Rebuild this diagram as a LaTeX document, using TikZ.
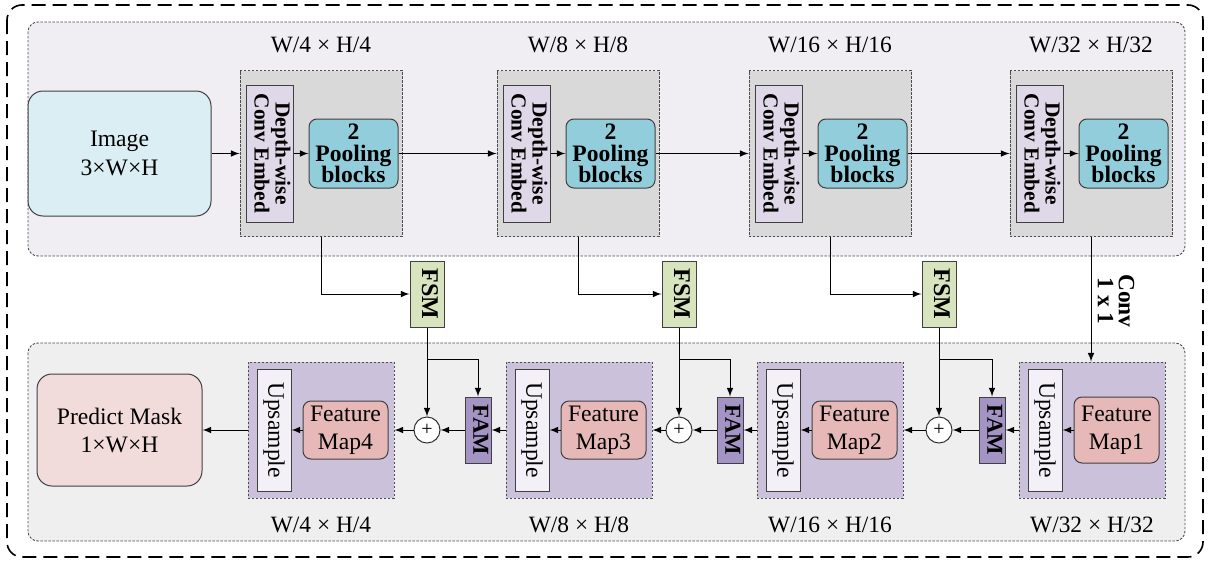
\documentclass[tikz,border=0pt]{standalone}
\usepackage{fontspec}
\setmainfont{Liberation Serif}
\usepackage{graphicx}
\usetikzlibrary{arrows,positioning}

\definecolor{toppanel}{HTML}{F0EEF3}
\definecolor{botpanel}{HTML}{EFEFEF}
\definecolor{imgblue}{HTML}{DAEEF3}
\definecolor{stagegray}{HTML}{D9D9D9}
\definecolor{dwlilac}{HTML}{DFD8E8}
\definecolor{poolcyan}{HTML}{92CDDC}
\definecolor{fsmgreen}{HTML}{D7E4BD}
\definecolor{decpurple}{HTML}{CCC1DA}
\definecolor{uppale}{HTML}{F3F1F7}
\definecolor{fmrose}{HTML}{E6B9B8}
\definecolor{fampurple}{HTML}{A394C4}
\definecolor{maskpink}{HTML}{F2DCDB}

\newcommand{\vtext}[1]{\rotatebox{-90}{\begin{tabular}{@{}c@{}}#1\end{tabular}}}

\begin{document}
\begin{tikzpicture}[x=0.5pt,y=-0.5pt,>=latex,line width=0.5pt,
  blk/.style={draw=black!75,inner sep=0pt,align=center},
  dotframe/.style={draw=black!70,line width=0.45pt,dash pattern=on 1.2pt off 0.8pt},
  imgbox/.style={blk,fill=imgblue,rounded corners=7.5pt,minimum width=91.5pt,minimum height=62.5pt,font=\fontsize{11.8}{14.5}\selectfont},
  stagebox/.style={dotframe,fill=stagegray,inner sep=0pt,minimum width=81pt,minimum height=83pt},
  dwbox/.style={blk,fill=dwlilac,minimum width=23.5pt,minimum height=68.5pt,font=\bfseries\fontsize{10.7}{10}\selectfont},
  poolbox/.style={blk,fill=poolcyan,rounded corners=4pt,minimum width=44.5pt,minimum height=34.5pt,font=\bfseries\fontsize{11.8}{10.8}\selectfont},
  fsmbox/.style={blk,fill=fsmgreen,minimum width=17pt,minimum height=33pt,font=\bfseries\fontsize{12}{12}\selectfont},
  sumnode/.style={circle,draw=black!80,fill=white,minimum size=13pt,inner sep=0pt,font=\fontsize{10}{10}\selectfont},
  fambox/.style={blk,fill=fampurple,minimum width=13pt,minimum height=33pt,font=\bfseries\fontsize{11.4}{11.4}\selectfont},
  decbox/.style={dotframe,fill=decpurple,inner sep=0pt,minimum width=73pt,minimum height=68pt},
  upbox/.style={blk,fill=uppale,minimum width=17pt,minimum height=61pt,font=\fontsize{11.8}{14}\selectfont},
  fmbox/.style={blk,fill=fmrose,rounded corners=4pt,minimum width=42.5pt,minimum height=29pt,font=\fontsize{11.8}{14}\selectfont},
  maskbox/.style={blk,fill=maskpink,rounded corners=7.5pt,minimum width=82.5pt,minimum height=56pt,font=\fontsize{11.8}{14}\selectfont},
  sizelabel/.style={font=\fontsize{11.7}{14}\selectfont},
  convtext/.style={rotate=-90,align=center,font=\bfseries\fontsize{11.7}{10.5}\selectfont}]
 \useasboundingbox (0,0) rectangle (1209,562);
 % frames
 \draw[line width=0.8pt,dash pattern=on 7pt off 3.5pt,rounded corners=7.5pt] (7,5) rectangle (1203,557);
 \draw[dotframe,fill=toppanel,rounded corners=5pt] (28,22) rectangle (1185,256);
 \draw[dotframe,fill=botpanel,rounded corners=5pt] (28,343) rectangle (1185,541);
 % encoder
 \node[imgbox] (img) at (119.5,153.5) {Image\\3×W×H};
 \foreach \i/\x/\d in {1/240/4,2/497/8,3/749/16,4/1010/32}{
  \node[stagebox] (g\i) at (\x+81,153.5) {};
  \node[dwbox] (dw\i) at (\x+29.5,153.5) {\vtext{Depth-wise\\Conv Embed}};
  \node[poolbox] (pool\i) at (\x+113.5,153.5) {2\\Pooling\\blocks};
  \node[sizelabel] (top\i) at (\x+81,45) {W/\d{} × H/\d};
 }
 % fusion
 \foreach \i/\x/\f in {1/427/478,2/679/730,3/939/992}{
  \node[fsmbox] (fsm\i) at (\x,294) {\vtext{FSM}};
  \node[sumnode] (sum\i) at (\x,430) {+};
  \node[fambox] (fam\i) at (\f,430) {\vtext{FAM}};
 }
 % decoder
 \node[maskbox] (mask) at (119.5,430) {Predict Mask\\1×W×H};
 \foreach \i/\x/\d/\h in {1/1019/32/33,2/757/16/29,3/506/8/29,4/248/4/29}{
  \node[decbox] (d\i) at (\x+73,430) {};
  \node[upbox] (up\i) at (\x+26,430) {\vtext{Upsample}};
  \node[fmbox,minimum height=\h pt] (fm\i) at (\x+97.5,430) {Feature\\Map\i};
  \node[sizelabel] (bot\i) at (\x+73,525) {W/\d{} × H/\d};
  \draw[->] (fm\i) -- (up\i);
 }
 \node[convtext] (conv) at (1116,301) {Conv\\1 x 1};
 % connectors
 \draw[->] (img) -- (g1);
 \foreach \i in {1,...,4} \draw[->] (dw\i) -- (pool\i);
 \draw[->] (pool1) -- (g2);
 \draw[->] (pool2) -- (g3);
 \draw[->] (pool3) -- (g4);
 \foreach \i in {1,2,3}{
  \draw[->] (g\i.south) |- (fsm\i.west);
  \draw[->] (fsm\i) -- (sum\i);
  \draw[->] (fsm\i.south) ++(0,32) -| (fam\i.north);
  \draw[->] (fam\i) -- (sum\i);
 }
 \draw[->] (g4.south) -- (g4.south |- d1.north);
 \draw[->] (d1) -- (fam3);
 \draw[->] (sum3) -- (d2);
 \draw[->] (d2) -- (fam2);
 \draw[->] (sum2) -- (d3);
 \draw[->] (d3) -- (fam1);
 \draw[->] (sum1) -- (d4);
 \draw[->] (d4) -- (mask);
\end{tikzpicture}
\end{document}
